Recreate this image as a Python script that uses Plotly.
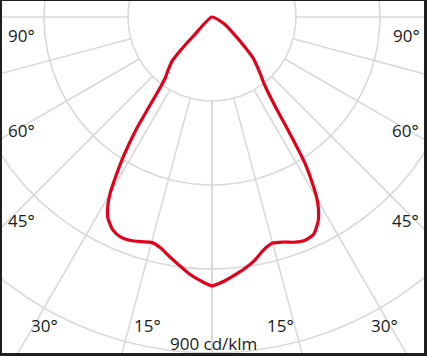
import numpy as np
import plotly.graph_objects as go

# ---- data (cd/klm) ----
gamma_c180 = [0, 2.5, 5, 7.5, 10, 12.5, 15, 17.5, 20, 22.5, 25, 27.5, 29, 30, 31,
              32.5, 34, 35, 36.5, 37.5, 39.5, 42, 43, 44, 44.5, 45]
intensity_c180 = [720, 707, 691, 671, 652, 634, 625, 631, 637, 638, 629, 605, 575, 546, 504,
                  439, 364, 295, 228, 206, 185, 161, 134, 96, 67, 0]
gamma_c0 = [0, 2.5, 5, 7.5, 10, 12.5, 15, 17.5, 20, 22.5, 25, 27.5, 29, 30, 31,
            32.5, 34, 35, 36.5, 38, 40.5, 45, 48, 52.5, 61, 75]
intensity_c0 = [720, 709, 694, 679, 661, 639, 627, 632, 642, 648, 643, 616, 588, 562, 525,
                461, 360, 304, 255, 226, 198, 156, 114, 72, 35, 0]

ring_values = [225, 450, 675, 900]
spoke_angles = [0, 15, 30, 45, 60, 75, 90]
scale_label = "900 cd/klm"

GRID = "#d9d9d9"
RED = "#e2001a"
PX = 225 / 84.0  # cd/klm per pixel of the picture


def P(px, py):
    """picture pixel -> data coordinates (centre at pixel 212,17)"""
    return (px - 212) * PX, -(py - 17) * PX


fig = go.Figure()

# rings
t = np.linspace(0, 2 * np.pi, 721)
for rv in ring_values:
    fig.add_trace(go.Scatter(x=rv * np.sin(t), y=rv * np.cos(t), mode="lines",
                             line=dict(color=GRID, width=1.6), hoverinfo="skip",
                             showlegend=False))

# spokes
r0, r1 = ring_values[0], 2000
for a in spoke_angles:
    for s in (-1, 1):
        ar = np.radians(a)
        fig.add_trace(go.Scatter(x=[s * r0 * np.sin(ar), s * r1 * np.sin(ar)],
                                 y=[-r0 * np.cos(ar), -r1 * np.cos(ar)], mode="lines",
                                 line=dict(color=GRID, width=1.6), hoverinfo="skip",
                                 showlegend=False))

# intensity curve
gl = np.radians(np.array(gamma_c180))[::-1]
il = np.array(intensity_c180, dtype=float)[::-1]
gr = np.radians(np.array(gamma_c0))[1:]
ir = np.array(intensity_c0, dtype=float)[1:]
xs = np.concatenate([-il * np.sin(gl), ir * np.sin(gr)])
ys = np.concatenate([-il * np.cos(gl), -ir * np.cos(gr)])
fig.add_trace(go.Scatter(x=xs, y=ys, mode="lines",
                         line=dict(color=RED, width=3.2, shape="spline", smoothing=0.6),
                         hoverinfo="skip", showlegend=False))

# labels
FONT = dict(family="Open Sans", size=17, color="#1a1a1a")
lab_pos_left = {"90°": (6, 35), "60°": (6, 130), "45°": (6, 220)}
lab_pos_right = {"90°": (422, 35), "60°": (421, 130), "45°": (421, 220)}
for txt, (px, py) in lab_pos_left.items():
    x, y = P(px, py)
    fig.add_annotation(x=x, y=y, text=txt, showarrow=False, xanchor="left",
                       yanchor="middle", font=FONT)
for txt, (px, py) in lab_pos_right.items():
    x, y = P(px, py)
    fig.add_annotation(x=x, y=y, text=txt, showarrow=False, xanchor="right",
                       yanchor="middle", font=FONT)
for txt, px in (("30°", 44.5), ("15°", 147.5), ("15°", 280), ("30°", 384)):
    x, y = P(px, 325)
    fig.add_annotation(x=x, y=y, text=txt, showarrow=False, xanchor="center",
                       yanchor="middle", font=FONT)
x, y = P(213, 343)
fig.add_annotation(x=x, y=y, text=scale_label, showarrow=False, xanchor="center",
                   yanchor="middle", font=FONT)

fig.update_layout(
    width=427, height=356,
    margin=dict(l=2, r=3, t=1, b=3),
    paper_bgcolor="#1f1f1f", plot_bgcolor="white",
    xaxis=dict(range=[-210 * PX, 212 * PX], visible=False, fixedrange=True),
    yaxis=dict(range=[-336 * PX, 16 * PX], visible=False, fixedrange=True),
)
fig.write_html("out.html", config={"displayModeBar": False},
               post_script="document.body.style.margin='0';document.body.style.padding='0';")
